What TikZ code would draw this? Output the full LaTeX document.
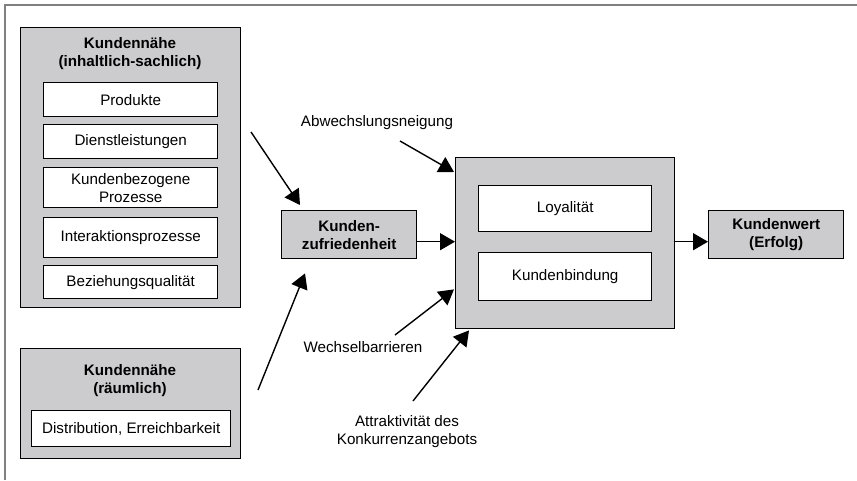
\documentclass[tikz,border=0pt]{standalone}
\usepackage{fontspec}
\setmainfont{Liberation Sans}
\usetikzlibrary{arrows.meta,calc}
\definecolor{boxgray}{RGB}{204,204,206}
\definecolor{framegray}{RGB}{128,128,128}
\begin{document}
\begin{tikzpicture}[x=1pt,y=-1pt,
  font=\fontsize{15.2}{18}\selectfont,
  outerbox/.style={draw=black,line width=1.4pt,fill=boxgray,anchor=north west,inner sep=0pt},
  innerbox/.style={draw=black,line width=1.4pt,fill=white,anchor=north west,inner sep=0pt,align=center},
  boldbox/.style={draw=black,line width=1.4pt,fill=boxgray,anchor=north west,inner sep=0pt,align=center,font=\fontsize{15.2}{18}\selectfont\bfseries},
  title/.style={align=center,font=\fontsize{15.2}{18}\selectfont\bfseries},
  plain/.style={align=center},
  arrow/.style={line width=1.4pt,-{Triangle[length=15pt,width=17pt]}}
]
\useasboundingbox (0,0) rectangle (857,480);

% frame lines
\draw[framegray,line width=2pt] (4.5,480) -- (4.5,4.5) -- (857,4.5);

% content-related customer proximity
\node[outerbox,minimum width=220pt,minimum height=280pt] (kn1) at (20,27) {};
\node[title] (kn1t) at (130,54) {Kundennähe\\(inhaltlich-sachlich)};
\node[innerbox,minimum width=174pt,minimum height=34pt] (prod) at (43,82) {Produkte};
\node[innerbox,minimum width=174pt,minimum height=34pt] (dienst) at (43,124) {Dienstleistungen};
\node[innerbox,minimum width=174pt,minimum height=40pt] (proz) at (43,167) {Kundenbezogene\\Prozesse};
\node[innerbox,minimum width=174pt,minimum height=40pt] (inter) at (43,217) {Interaktionsprozesse};
\node[innerbox,minimum width=174pt,minimum height=33pt] (bez) at (43,265) {Beziehungsqualität};

% spatial customer proximity
\node[outerbox,minimum width=220pt,minimum height=110pt] (kn2) at (20,348) {};
\node[title] (kn2t) at (130,381) {Kundennähe\\(räumlich)};
\node[innerbox,minimum width=199pt,minimum height=36pt] (dist) at (31,410) {Distribution, Erreichbarkeit};

% satisfaction
\node[boldbox,minimum width=135pt,minimum height=48pt] (kz) at (281,210) {Kunden-\\zufriedenheit};

% loyalty block
\node[outerbox,minimum width=219pt,minimum height=171pt] (lb) at (455,157) {};
\node[innerbox,minimum width=173pt,minimum height=46pt] (loy) at (478,185) {Loyalität};
\node[innerbox,minimum width=173pt,minimum height=48pt] (kb) at (478,252) {Kundenbindung};

% customer value
\node[boldbox,minimum width=135pt,minimum height=48pt] (kw) at (708,210) {Kundenwert\\(Erfolg)};

% moderating factors
\node[plain] (abw) at (377,123) {Abwechslungsneigung};
\node[plain] (wech) at (363,347) {Wechselbarrieren};
\node[plain] (attr) at (407,432) {Attraktivität des\\Konkurrenzangebots};

% free arrow tails
\coordinate (t1) at (251,132);
\coordinate (t2) at (258,390);
\coordinate (t4) at (400,141);
\coordinate (t5) at (395,335);
\coordinate (t6) at (413,401);

% connectors
\draw[arrow] (t1) -- ([xshift=19pt,yshift=5pt]kz.north west);
\draw[arrow] (t2) -- ([xshift=24pt,yshift=-14pt]kz.south west);
\draw[arrow] ([yshift=-7pt]kz.east) -- ([yshift=-7pt]kz.east -| lb.west);
\draw[arrow] (t4) -- ([xshift=-1pt,yshift=-15pt]lb.north west);
\draw[arrow] (t5) -- ([xshift=-1pt,yshift=40pt]lb.south west);
\draw[arrow] (t6) -- ([xshift=14pt,yshift=-1pt]lb.south west);
\draw[arrow] ([yshift=-7pt]kw.west -| lb.east) -- ([yshift=-7pt]kw.west);
\end{tikzpicture}
\end{document}
